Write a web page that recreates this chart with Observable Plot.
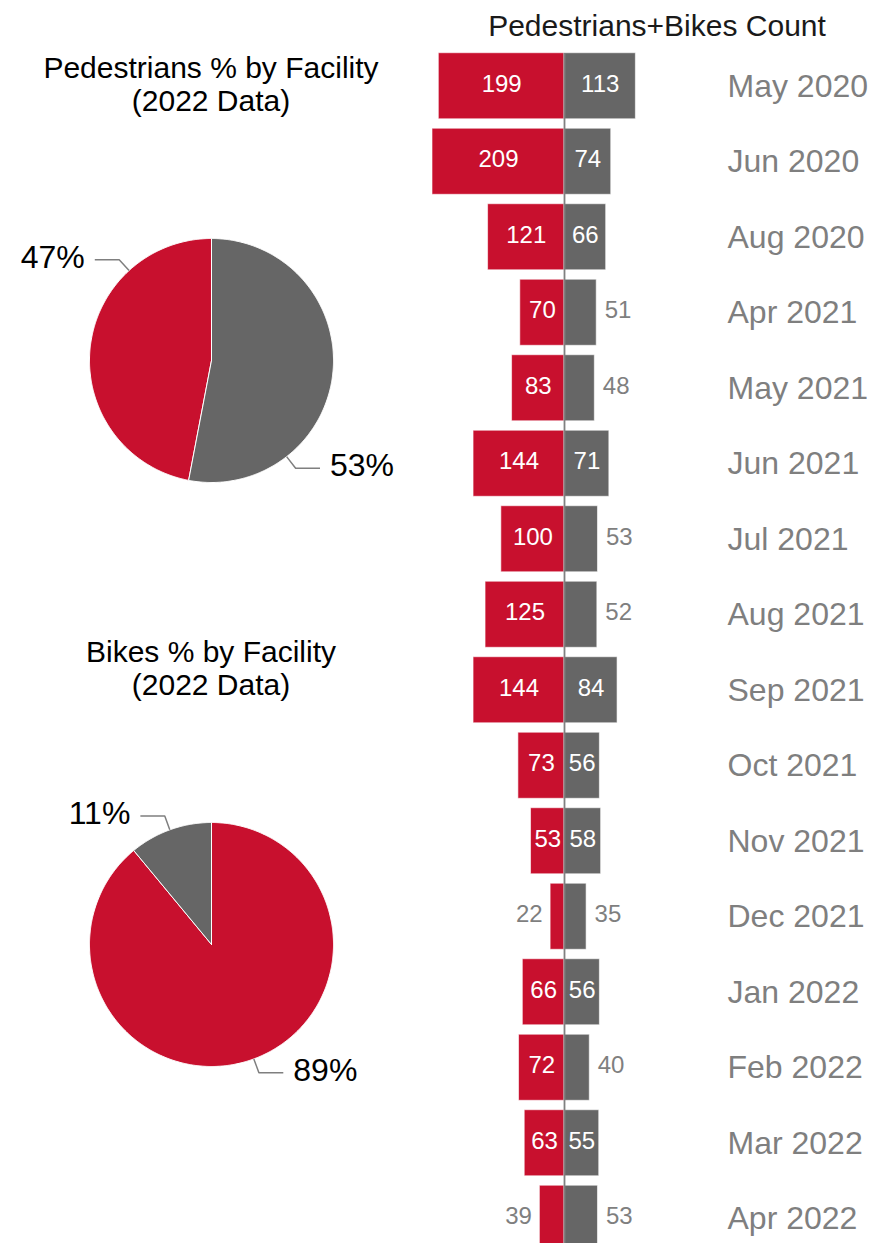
<!DOCTYPE html>
<html>
<head>
<meta charset="utf-8">
<script src="https://cdn.jsdelivr.net/npm/d3@7"></script>
<script src="https://cdn.jsdelivr.net/npm/@observablehq/plot@0.6"></script>
<style>
  html, body { margin: 0; padding: 0; background: #fff; overflow: hidden; }
  #root { position: relative; width: 876px; height: 1243px; overflow: hidden; font-family: "Liberation Sans", Arial, sans-serif; }
  .abs { position: absolute; }
  .ttl { position: absolute; text-align: center; font-size: 30px; line-height: 33px; color: #1a1a1a; white-space: nowrap; }
</style>
</head>
<body>
<div id="root">
  <div class="ttl" style="left:457px;top:9px;width:400px;">Pedestrians+Bikes Count</div>
  <div class="ttl" style="left:11px;top:51px;width:400px;color:#000;">Pedestrians % by Facility<br>(2022 Data)</div>
  <div class="ttl" style="left:11px;top:635px;width:400px;color:#000;">Bikes % by Facility<br>(2022 Data)</div>
  <div class="abs" id="bars" style="left:420px;top:0px;"></div>
  <div class="abs" id="pie1" style="left:0px;top:200px;"></div>
  <div class="abs" id="pie2" style="left:0px;top:780px;"></div>
</div>
<script>
// ---- data ----
const months = ["May 2020","Jun 2020","Aug 2020","Apr 2021","May 2021","Jun 2021","Jul 2021","Aug 2021","Sep 2021","Oct 2021","Nov 2021","Dec 2021","Jan 2022","Feb 2022","Mar 2022","Apr 2022"];
const pedestrians = [199,209,121,70,83,144,100,125,144,73,53,22,66,72,63,39];
const bikes = [113,74,66,51,48,71,53,52,84,56,58,35,56,40,55,53];

const facilities = ["Facility 1","Facility 2"];
const pedestrianPct = [47,53];
const bikePct = [89,11];

// ---- styles ----
const RED = "#c8102e", GRAY = "#666666", LABEL_GRAY = "#7f7f7f";
const FONT = "'Liberation Sans', Arial, sans-serif";
const facilityColor = {"Facility 1": RED, "Facility 2": GRAY};

// ---- bar chart ----
const rows = months.map((m, i) => ({month: m, ped: pedestrians[i], bike: bikes[i]}));
const pedInside = d => d.ped >= 40;
const bikeInside = d => d.bike >= 54;

const bars = Plot.plot({
  width: 456, height: 1260,
  marginLeft: 0, marginRight: 156, marginTop: 48, marginBottom: 4,
  style: {fontFamily: FONT, background: "transparent"},
  x: {domain: [-228, 247], axis: null},
  y: {domain: months, paddingInner: 0.125, paddingOuter: 0.0625, round: false, axis: null},
  marks: [
    Plot.barX(rows, {y: "month", x1: d => -d.ped, x2: 0, fill: RED, stroke: "#fff", strokeOpacity: 0.6, strokeWidth: 1}),
    Plot.barX(rows, {y: "month", x1: 0, x2: d => d.bike, fill: GRAY, stroke: "#fff", strokeOpacity: 0.6, strokeWidth: 1}),
    Plot.ruleX([0], {stroke: "#808080", strokeWidth: 1.8, insetTop: 5}),
    Plot.text(rows.filter(pedInside), {y: "month", x: d => -d.ped / 2, text: d => String(d.ped), fill: "#fff", fontSize: 24, dy: -2}),
    Plot.text(rows.filter(d => !pedInside(d)), {y: "month", x: d => -d.ped, text: d => String(d.ped), fill: LABEL_GRAY, fontSize: 24, textAnchor: "end", dx: -8, dy: -2}),
    Plot.text(rows.filter(bikeInside), {y: "month", x: d => d.bike / 2, text: d => String(d.bike), fill: "#fff", fontSize: 24, dy: -2}),
    Plot.text(rows.filter(d => !bikeInside(d)), {y: "month", x: d => d.bike, text: d => String(d.bike), fill: LABEL_GRAY, fontSize: 24, textAnchor: "start", dx: 8, dy: -2}),
    Plot.axisY({anchor: "right", tickSize: 0, tickPadding: 7, fontSize: 32, color: LABEL_GRAY, label: null})
  ]
});
document.getElementById("bars").appendChild(bars);

// ---- pies ----
function piePlot(values, leaderAngles, marginTop, height) {
  const items = facilities.map((f, i) => ({key: f, value: values[i]}));
  const arcs = d3.pie().value(d => d.value)(items);
  const pts = [];
  for (const a of arcs) {
    const key = a.data.key;
    pts.push({key, x: 0, y: 0});
    const n = Math.max(2, Math.ceil((a.endAngle - a.startAngle) / (Math.PI / 360)));
    for (let k = 0; k <= n; k++) {
      const t = a.startAngle + (a.endAngle - a.startAngle) * k / n;
      pts.push({key, x: Math.sin(t), y: Math.cos(t)});
    }
    pts.push({key, x: 0, y: 0});
  }
  // label leaders (annotation layout)
  const leaders = [], labels = [];
  for (const a of arcs) {
    const key = a.data.key;
    const ang = leaderAngles[key] * Math.PI / 180;
    const s = Math.sin(ang), c = Math.cos(ang);
    const dir = s < 0 ? -1 : 1;
    const ex = 1.0 * s, ey = 1.0 * c;
    const bx = 1.12 * s, by = 1.12 * c;
    const hx = bx + dir * 0.2;
    leaders.push({key, x: ex, y: ey}, {key, x: bx, y: by}, {key, x: hx, y: by});
    labels.push({key, x: hx, y: by, text: `${a.data.value}%`, anchor: dir < 0 ? "end" : "start"});
  }
  return Plot.plot({
    width: 420, height,
    marginLeft: 89, marginRight: 87, marginTop, marginBottom: height - marginTop - 244,
    style: {fontFamily: FONT, background: "transparent", overflow: "visible"},
    x: {domain: [-1, 1], axis: null},
    y: {domain: [-1, 1], axis: null},
    marks: [
      Plot.line(pts, {x: "x", y: "y", z: "key", fill: d => facilityColor[d.key], stroke: "#fff", strokeWidth: 1, strokeLinejoin: "miter"}),
      Plot.line(leaders, {x: "x", y: "y", z: "key", stroke: LABEL_GRAY, strokeWidth: 1.5, strokeLinecap: "butt"}),
      Plot.text(labels.filter(d => d.anchor === "end"), {x: "x", y: "y", text: "text", textAnchor: "end", dx: -10, dy: -2, fontSize: 32, fill: "#000"}),
      Plot.text(labels.filter(d => d.anchor === "start"), {x: "x", y: "y", text: "text", textAnchor: "start", dx: 10, dy: -2, fontSize: 32, fill: "#000"})
    ]
  });
}

document.getElementById("pie1").appendChild(
  piePlot(pedestrianPct, {"Facility 1": -42.5, "Facility 2": 142}, 38, 320)
);
document.getElementById("pie2").appendChild(
  piePlot(bikePct, {"Facility 1": 159.7, "Facility 2": -20}, 42, 320)
);
</script>
</body>
</html>
